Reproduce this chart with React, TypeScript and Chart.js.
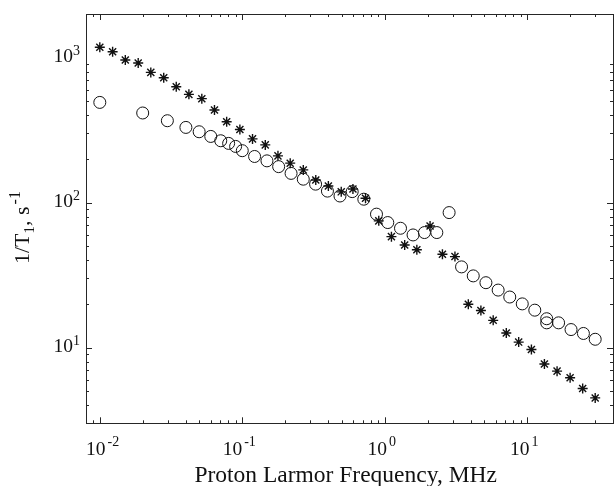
import React, { useEffect, useRef } from "react";
import { Chart, registerables } from "chart.js";

Chart.register(...registerables);

const freqStar = [0.01, 0.0123, 0.0151, 0.0186, 0.0228, 0.0281, 0.0344, 0.0422, 0.052, 0.0638, 0.0777, 0.0962, 0.118, 0.145, 0.178, 0.217, 0.268, 0.328, 0.402, 0.495, 0.598, 0.733, 0.908, 1.114, 1.38, 1.68, 2.08, 2.54, 3.11, 3.86, 4.73, 5.77, 7.13, 8.71, 10.7, 13.2, 16.2, 20, 24.5, 30];
const rateStar = [1178, 1099, 964, 919, 791, 727, 630, 558, 521, 435, 361, 319, 275, 250, 210, 187, 168, 143, 130, 118.6, 124, 107, 74.8, 58.2, 51, 47.3, 69, 44, 42.4, 19.9, 18.0, 15.4, 12.6, 10.9, 9.7, 7.7, 6.87, 6.18, 5.21, 4.49];

const freqCircle = [0.01, 0.02, 0.0298, 0.0402, 0.0498, 0.0601, 0.0706, 0.0802, 0.0898, 0.1, 0.122, 0.149, 0.18, 0.22, 0.268, 0.327, 0.396, 0.485, 0.591, 0.713, 0.875, 1.05, 1.29, 1.58, 1.9, 2.32, 2.83, 3.46, 4.18, 5.13, 6.25, 7.54, 9.23, 11.3, 13.7, 13.7, 16.6, 20.3, 24.8, 30];
const rateCircle = [491, 415, 367, 330, 308, 286, 267, 256, 244, 228, 208, 194, 177, 159, 145, 134, 120, 111, 119, 105.5, 83.2, 72.8, 66.5, 59.8, 62.1, 62.1, 85.3, 36, 31.2, 28, 24.9, 22.3, 20, 18.1, 15.8, 14.8, 14.8, 13.3, 12.5, 11.4];

const xTickExps = [-2, -1, 0, 1];
const yTickExps = [1, 2, 3];
const xRange = [0.008, 40];
const yRange = [3, 2000];
const xTitle = "Proton Larmor Frequency, MHz";

const FONT = "'Liberation Serif', 'Times New Roman', serif";

const axesPlugin = {
  id: "matlabAxes",
  afterDraw(chart: any) {
    const ctx = chart.ctx as CanvasRenderingContext2D;
    const a = chart.chartArea;
    const xs = chart.scales.x;
    const ys = chart.scales.y;
    ctx.save();
    ctx.strokeStyle = "#262626";
    ctx.lineWidth = 1;
    ctx.strokeRect(Math.round(a.left) + 0.5, Math.round(a.top) + 0.5, Math.round(a.right - a.left), Math.round(a.bottom - a.top));

    ctx.beginPath();
    for (let d = -3; d <= 2; d++) {
      for (let m = 1; m <= 9; m++) {
        const v = m * Math.pow(10, d);
        if (v >= xRange[0] && v <= xRange[1]) {
          const px = Math.round(xs.getPixelForValue(v)) + 0.5;
          const len = m === 1 ? 6 : 3;
          ctx.moveTo(px, a.bottom);
          ctx.lineTo(px, a.bottom - len);
          ctx.moveTo(px, a.top);
          ctx.lineTo(px, a.top + len);
        }
        if (v >= yRange[0] && v <= yRange[1]) {
          const py = Math.round(ys.getPixelForValue(v)) + 0.5;
          const len = m === 1 ? 6 : 3;
          ctx.moveTo(a.left, py);
          ctx.lineTo(a.left + len, py);
          ctx.moveTo(a.right, py);
          ctx.lineTo(a.right - len, py);
        }
      }
    }
    ctx.stroke();

    ctx.fillStyle = "#111";
    ctx.textBaseline = "alphabetic";
    const baseFont = `19.5px ${FONT}`;
    const supFont = `14px ${FONT}`;
    // x tick labels
    for (const e of xTickExps) {
      const px = xs.getPixelForValue(Math.pow(10, e));
      ctx.font = baseFont;
      const w1 = ctx.measureText("10").width;
      ctx.font = supFont;
      const sup = e < 0 ? "-" + Math.abs(e) : String(e);
      const w2 = ctx.measureText(sup).width;
      const gap = 2;
      const total = w1 + gap + w2;
      let start = px - 3 - total / 2;
      if (start < a.left) start = a.left;
      ctx.textAlign = "left";
      ctx.font = baseFont;
      ctx.fillText("10", start, 455);
      ctx.font = supFont;
      ctx.fillText(sup, start + w1 + gap, 446);
    }
    // y tick labels
    for (const e of yTickExps) {
      const py = ys.getPixelForValue(Math.pow(10, e));
      ctx.font = supFont;
      const sup = String(e);
      const w2 = ctx.measureText(sup).width;
      ctx.font = baseFont;
      const w1 = ctx.measureText("10").width;
      const right = 80;
      ctx.textAlign = "left";
      ctx.font = baseFont;
      ctx.fillText("10", right - w2 - w1, py + 4.5);
      ctx.font = supFont;
      ctx.fillText(sup, right - w2, py - 2.5);
    }
    // x title
    ctx.font = `23.5px ${FONT}`;
    ctx.textAlign = "center";
    ctx.fillText(xTitle, 345.7, 482);

    // y title (rotated), drawn from the bottom upward
    ctx.save();
    ctx.translate(28.5, 264);
    ctx.rotate(-Math.PI / 2);
    const parts: [string, string, number, number][] = [
      ["1/T", `22px ${FONT}`, 0, 0],
      ["1", `15px ${FONT}`, 5, 0],
      [", s", `22px ${FONT}`, 0, 2],
      ["-1", `16px ${FONT}`, -9, 0],
    ];
    let x = 0;
    ctx.textAlign = "left";
    for (const [t, f, dy, after] of parts) {
      ctx.font = f;
      ctx.fillText(t, x, dy);
      x += ctx.measureText(t).width + after;
    }
    ctx.restore();
    ctx.restore();
  },
};

export default function App() {
  const ref = useRef<HTMLCanvasElement>(null);
  useEffect(() => {
    document.body.style.margin = "0";
    document.body.style.overflow = "hidden";
    const canvas = ref.current!;
    const chart = new Chart(canvas, {
      type: "scatter",
      data: {
        datasets: [
          {
            label: "star",
            data: freqStar.map((f, i) => ({ x: f, y: rateStar[i] })),
            pointStyle: "star",
            radius: 5,
            borderColor: "#111",
            backgroundColor: "#111",
            borderWidth: 1.4,
          },
          {
            label: "circle",
            data: freqCircle.map((f, i) => ({ x: f, y: rateCircle[i] })),
            pointStyle: "circle",
            radius: 6,
            borderColor: "#111",
            backgroundColor: "rgba(0,0,0,0)",
            borderWidth: 1,
          },
        ],
      },
      options: {
        responsive: false,
        animation: false,
        devicePixelRatio: 1,
        layout: { padding: { left: 86, top: 14, right: 4.4, bottom: 62.7 } },
        plugins: { legend: { display: false }, tooltip: { enabled: false } },
        scales: {
          x: { type: "logarithmic", min: xRange[0], max: xRange[1], display: false },
          y: { type: "logarithmic", min: yRange[0], max: yRange[1], display: false },
        },
      },
      plugins: [axesPlugin],
    });
    return () => chart.destroy();
  }, []);
  return (
    <canvas
      ref={ref}
      width={620}
      height={486}
      style={{ position: "fixed", left: 0, top: 0, width: 620, height: 486, background: "#fff" }}
    />
  );
}
